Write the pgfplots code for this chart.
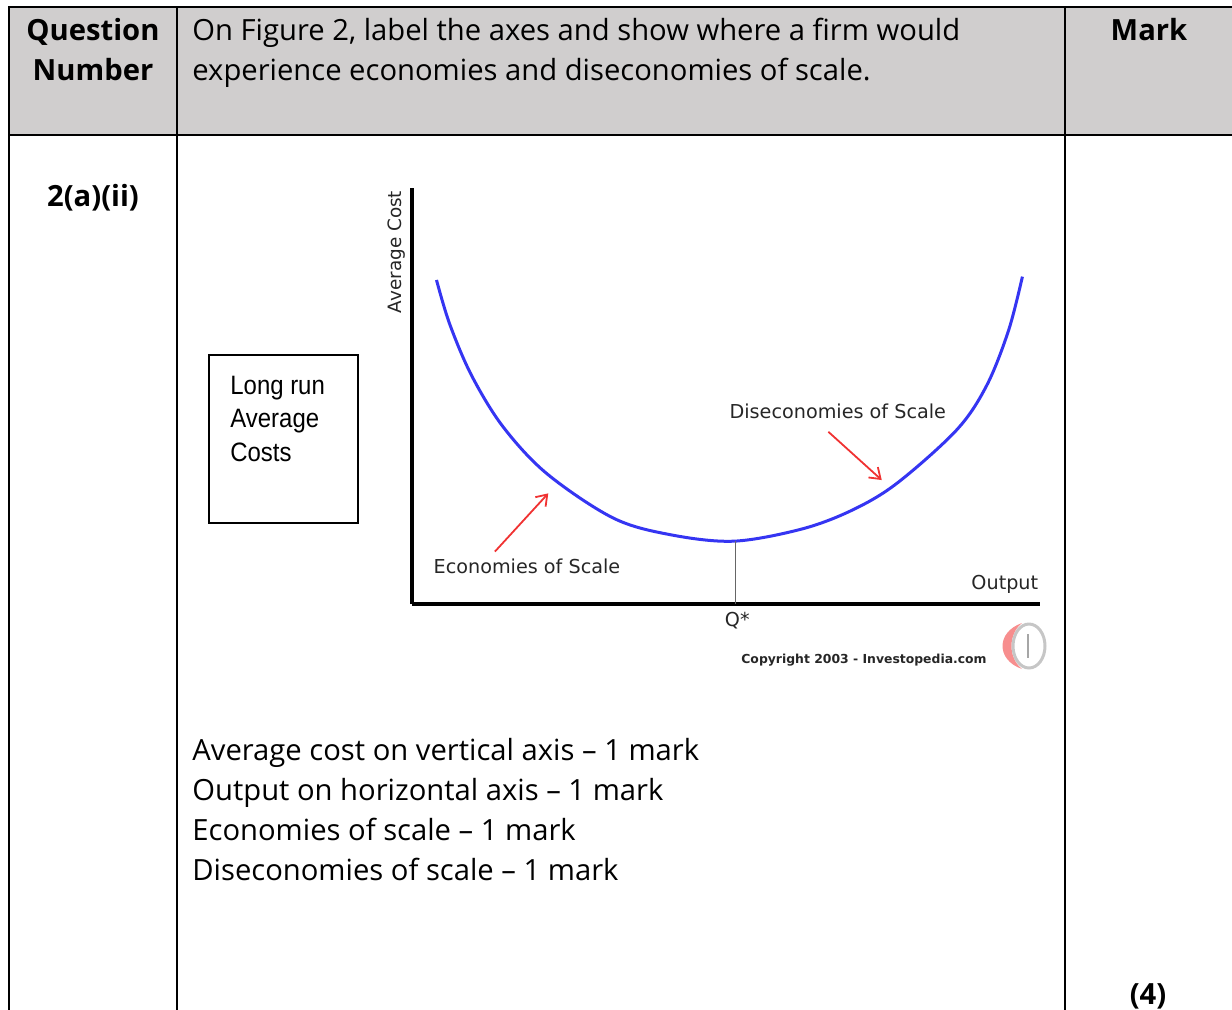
\documentclass[border=0pt]{standalone}
\usepackage{fontspec}
\setmainfont{Open Sans}
\newfontfamily\arial{Liberation Sans}
\newfontfamily\dv{DejaVu Sans}
\usepackage{graphicx}
\usepackage{pgfplots}
\pgfplotsset{compat=1.18}
\usetikzlibrary{arrows.meta}
\definecolor{hdr}{HTML}{D0CECE}
\definecolor{lrac}{HTML}{3535F2}
\definecolor{arr}{HTML}{F03232}
\definecolor{ink}{HTML}{262626}
\newcommand\body{\fontsize{14.6pt}{20pt}\selectfont}
\newcommand\chartfont{\dv\fontsize{9.6pt}{11pt}\selectfont}
\newcommand\narrow[1]{\scalebox{0.9}[1]{#1}}
\begin{document}
\begin{tikzpicture}
% table frame, in pixel units of the reference
\begin{scope}[x=0.5pt,y=-0.5pt]
\path[use as bounding box] (0,0) rectangle (1232,1009);
\fill[hdr] (9,7) rectangle (1240,135);
\draw[line width=1.1pt] (1240,7) -- (9,7) -- (9,1015);
\draw[line width=1.1pt] (9,135) -- (1240,135);
\draw[line width=1.1pt] (177,7) -- (177,1015);
\draw[line width=1.1pt] (1065,7) -- (1065,1015);

\node[font=\body\bfseries,anchor=base] at (93,40) {Question};
\node[font=\body\bfseries,anchor=base] at (93,80) {Number};
\node[font=\body\bfseries,anchor=base] at (1149,40) {Mark};
\node[font=\body,anchor=base west,inner sep=0pt] at (192,40) {On Figure 2, label the axes and show where a firm would};
\node[font=\body,anchor=base west,inner sep=0pt] at (192,80) {experience economies and diseconomies of scale.};
\node[font=\body\bfseries,anchor=base] at (93,206) {2(a)(ii)};
\node[font=\body\bfseries,anchor=base] at (1148,1004) {(4)};

\node[font=\body,anchor=base west,inner sep=0pt] at (192,760) {Average cost on vertical axis -- 1 mark};
\node[font=\body,anchor=base west,inner sep=0pt] at (192,800) {Output on horizontal axis -- 1 mark};
\node[font=\body,anchor=base west,inner sep=0pt] at (192,840) {Economies of scale -- 1 mark};
\node[font=\body,anchor=base west,inner sep=0pt] at (192,880) {Diseconomies of scale -- 1 mark};

% "Long run Average Costs" box
\draw[line width=0.8pt] (209,355) rectangle (358,523);
\begin{scope}[font=\arial\fontsize{13.3pt}{16pt}\selectfont]
\node[anchor=base west,inner sep=0pt] at (230,394) {\narrow{Long run}};
\node[anchor=base west,inner sep=0pt] at (230,427) {\narrow{Average}};
\node[anchor=base west,inner sep=0pt] at (230,461) {\narrow{Costs}};
\end{scope}

% copyright line and logo
\node[font=\dv\bfseries\fontsize{6.2pt}{7pt}\selectfont,text=ink] at (864,660) {Copyright 2003 - Investopedia.com};
\fill[arr!55] (1022,623) .. controls (996,632) and (996,660) .. (1022,669)
  .. controls (1008,658) and (1008,634) .. cycle;
\draw[gray!45,line width=1.5pt] (1029,646) ellipse (16 and 22);
\draw[gray!70,line width=1.2pt] (1028,634) -- (1028,658);
\end{scope}

\begin{axis}[
  at={(206pt,-302pt)}, anchor=south west,
  scale only axis, width=314pt, height=208pt,
  xmin=0, xmax=10, ymin=0, ymax=10,
  axis x line=bottom, axis y line=left,
  axis line style={line width=2pt,-},
  xtick=\empty, ytick=\empty,
  clip=false,
]
% long run average cost curve
\addplot[lrac,line width=1.5pt,smooth,tension=0.55] coordinates {
(0.39,7.79)(0.60,6.73)(0.95,5.49)(1.45,4.26)(2.15,3.13)(3.20,2.07)(4.10,1.67)
(5.12,1.51)(6.20,1.80)(7.00,2.25)(7.72,2.90)(8.67,4.18)(9.15,5.25)(9.50,6.58)
(9.72,7.87)
};
% Q* drop line
\addplot[gray!80!black,line width=0.6pt] coordinates {(5.15,0)(5.15,1.51)};
% arrows
\draw[arr,line width=0.9pt,-{Straight Barb[length=5pt,width=7pt]}]
  (axis cs:1.32,1.26) -- (axis cs:2.17,2.66);
\draw[arr,line width=0.9pt,-{Straight Barb[length=5pt,width=7pt]}]
  (axis cs:6.63,4.14) -- (axis cs:7.48,2.98);
% labels
\node[font=\chartfont,text=ink] at (axis cs:1.83,0.91) {Economies of Scale};
\node[font=\chartfont,text=ink] at (axis cs:6.78,4.64) {Diseconomies of Scale};
\node[font=\chartfont,text=ink] at (axis cs:9.44,0.48) {Output};
\node[font=\chartfont,text=ink] at (axis cs:5.18,-0.41) {Q*};
\node[font=\dv\fontsize{9.2pt}{10pt}\selectfont,text=ink,rotate=90] at (axis cs:-0.24,8.46) {Average Cost};
\end{axis}
\end{tikzpicture}
\end{document}
